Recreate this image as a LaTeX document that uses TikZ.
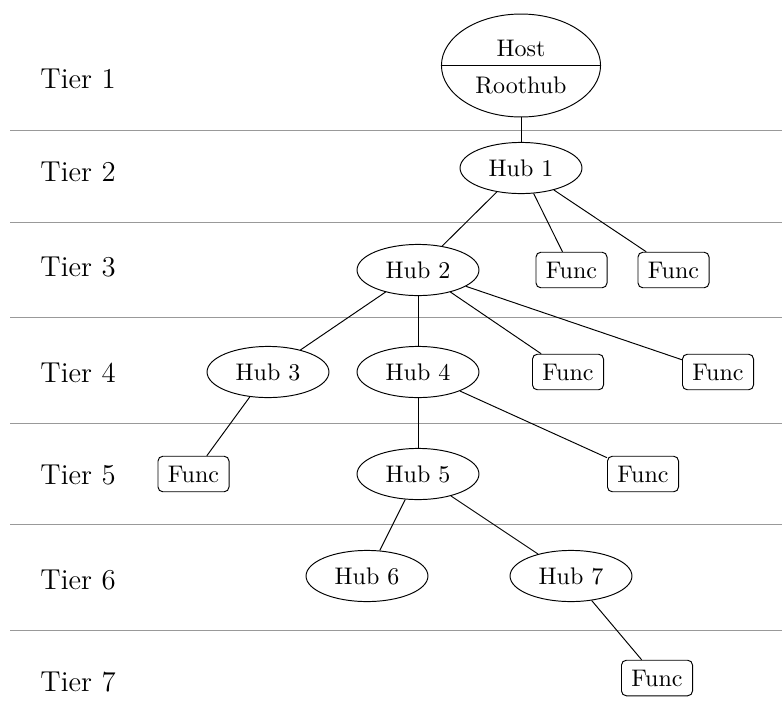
\documentclass[tikz,border=0pt]{standalone}
\usetikzlibrary{shapes.geometric}
\begin{document}
\begin{tikzpicture}[x=0.41667pt, y=-0.41667pt,
  tierline/.style={draw=black!40, line width=0.4pt},
  tierlabel/.style={anchor=west, inner sep=0pt, font=\large},
  hub/.style={draw, ellipse, minimum width=50.8pt, minimum height=21.3pt, inner sep=0pt},
  func/.style={draw, rectangle, rounded corners=2pt, minimum width=29.6pt, minimum height=14.8pt, inner sep=0pt},
  link/.style={draw, line width=0.4pt}]
\useasboundingbox (0,0) rectangle (782,727);

% tier separators
\foreach \y in {130,222,317,423,524.5,630}
  \draw[tierline] (10,\y) -- (782,\y);

% tier labels
\node[tierlabel] (t1) at (40,79) {Tier 1};
\node[tierlabel] (t2) at (40,172) {Tier 2};
\node[tierlabel] (t3) at (40,267) {Tier 3};
\node[tierlabel] (t4) at (40,373) {Tier 4};
\node[tierlabel] (t5) at (40,475) {Tier 5};
\node[tierlabel] (t6) at (40,580) {Tier 6};
\node[tierlabel] (t7) at (40,682) {Tier 7};

% host with root hub
\node[draw, ellipse, minimum width=66.3pt, minimum height=42.9pt, inner sep=0pt] (host) at (521,65.5) {};
\draw (host.west) -- (host.east);
\node (hostlabel) at (521,48) {Host};
\node (roothub) at (521,85) {Roothub};

% hubs
\node[hub] (hub1) at (521,168) {Hub 1};
\node[hub] (hub2) at (418,270) {Hub 2};
\node[hub] (hub3) at (268,372) {Hub 3};
\node[hub] (hub4) at (418,372) {Hub 4};
\node[hub] (hub5) at (418,474) {Hub 5};
\node[hub] (hub6) at (367,576) {Hub 6};
\node[hub] (hub7) at (571,576) {Hub 7};

% functions
\node[func] (f1) at (571.5,270) {Func};
\node[func] (f2) at (673.5,270) {Func};
\node[func] (f3) at (568,372) {Func};
\node[func] (f4) at (718,372) {Func};
\node[func] (f5) at (193.5,474) {Func};
\node[func] (f6) at (643,474) {Func};
\node[func] (f7) at (657,678) {Func};

% connections
\draw[link] (host) -- (hub1);
\draw[link] (hub1) -- (hub2);
\draw[link] (hub1) -- (f1);
\draw[link] (hub1) -- (f2);
\draw[link] (hub2) -- (hub3);
\draw[link] (hub2) -- (hub4);
\draw[link] (hub2) -- (f3);
\draw[link] (hub2) -- (f4);
\draw[link] (hub3) -- (f5);
\draw[link] (hub4) -- (hub5);
\draw[link] (hub4) -- (f6);
\draw[link] (hub5) -- (hub6);
\draw[link] (hub5) -- (hub7);
\draw[link] (hub7) -- (f7);
\end{tikzpicture}
\end{document}
